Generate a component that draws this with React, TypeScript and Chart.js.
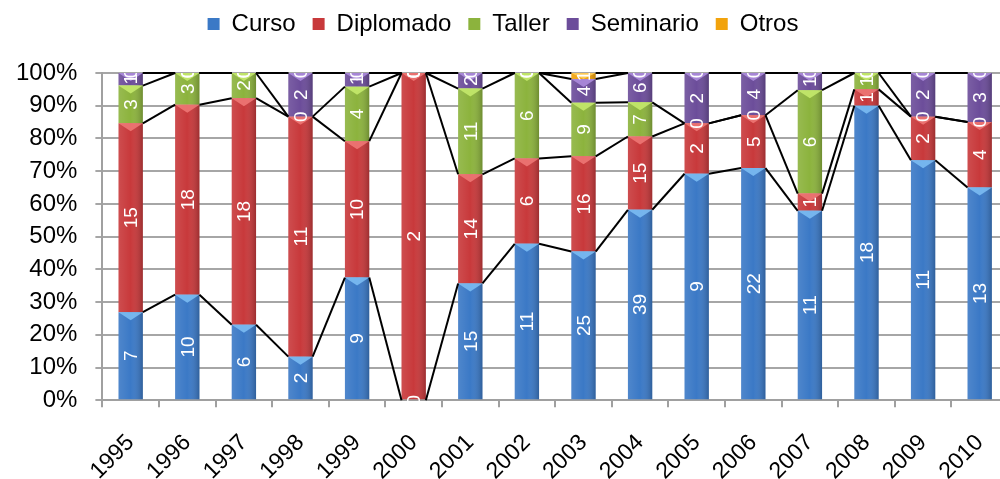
import React, { useEffect, useRef } from "react";
import { Chart, registerables } from "chart.js";

Chart.register(...registerables);

const years = ["1995","1996","1997","1998","1999","2000","2001","2002","2003","2004","2005","2006","2007","2008","2009","2010"];
const curso = [7, 10, 6, 2, 9, 0, 15, 11, 25, 39, 9, 22, 11, 18, 11, 13];
const diplomado = [15, 18, 18, 11, 10, 2, 14, 6, 16, 15, 2, 5, 1, 1, 2, 4];
const taller = [3, 3, 2, 0, 4, 0, 11, 6, 9, 7, 0, 0, 6, 1, 0, 0];
const seminario = [1, 0, 0, 2, 1, 0, 2, 0, 4, 6, 2, 4, 1, 0, 2, 3];
const otros = [0, 0, 0, 0, 0, 0, 0, 0, 1, 0, 0, 0, 0, 0, 0, 0];
const yTicks = [0, 10, 20, 30, 40, 50, 60, 70, 80, 90, 100];

const seriesNames = ["Curso", "Diplomado", "Taller", "Seminario", "Otros"];
const seriesCounts = [curso, diplomado, taller, seminario, otros];
const seriesColors = ["#3b79c6", "#c8393b", "#8cb33d", "#6c4d9a", "#f2a30c"];
const triColors = ["#7fc0f4", "#f07a78", "#c8ec6e", "#b08fe0", "#ffd060"];

const FONT = "'Liberation Sans', Arial, sans-serif";

const totals = years.map((_, i) => seriesCounts.reduce((s, arr) => s + arr[i], 0));

const legendSpacing = {
  id: "legendSpacing",
  beforeInit(chart: any) {
    const legend = chart.legend;
    if (!legend) return;
    const origFit = legend.fit;
    legend.fit = function () {
      origFit.call(this);
      this.height += 27;
    };
  },
};

const shadingPlugin = {
  id: "shading",
  afterDatasetsDraw(chart: any) {
    const ctx = chart.ctx;
    chart.data.datasets.forEach((_: any, di: number) => {
      const meta = chart.getDatasetMeta(di);
      meta.data.forEach((el: any) => {
        const top = Math.min(el.y, el.base);
        const h = Math.abs(el.base - el.y);
        if (h < 0.5) return;
        const left = el.x - el.width / 2;
        ctx.save();
        const g = ctx.createLinearGradient(left, 0, left + el.width, 0);
        g.addColorStop(0, "rgba(255,255,255,0.10)");
        g.addColorStop(0.5, "rgba(255,255,255,0.0)");
        g.addColorStop(1, "rgba(0,0,0,0.22)");
        ctx.fillStyle = g;
        ctx.fillRect(left, top, el.width, h);
        const th = Math.min(8, h);
        ctx.fillStyle = triColors[di];
        ctx.globalAlpha = 0.85;
        ctx.beginPath();
        ctx.moveTo(left, top);
        ctx.lineTo(left + el.width, top);
        ctx.lineTo(el.x, top + th);
        ctx.closePath();
        ctx.fill();
        ctx.restore();
      });
    });
  },
};

const seriesLinesPlugin = {
  id: "seriesLines",
  afterDatasetsDraw(chart: any) {
    const ctx = chart.ctx;
    ctx.save();
    ctx.strokeStyle = "#000";
    ctx.lineWidth = 2;
    chart.data.datasets.forEach((_: any, di: number) => {
      const meta = chart.getDatasetMeta(di);
      const els = meta.data;
      for (let j = 0; j < els.length - 1; j++) {
        const a = els[j];
        const b = els[j + 1];
        ctx.beginPath();
        ctx.moveTo(a.x + a.width / 2, a.y);
        ctx.lineTo(b.x - b.width / 2, b.y);
        ctx.stroke();
      }
    });
    ctx.restore();
  },
};

const labelsPlugin = {
  id: "segLabels",
  afterDatasetsDraw(chart: any) {
    const ctx = chart.ctx;
    const area = chart.chartArea;
    ctx.save();
    ctx.beginPath();
    ctx.rect(area.left, area.top, area.right - area.left, area.bottom - area.top + 6);
    ctx.clip();
    ctx.fillStyle = "#fff";
    ctx.font = `19px ${FONT}`;
    ctx.textAlign = "center";
    ctx.textBaseline = "middle";
    chart.data.datasets.forEach((_: any, di: number) => {
      const meta = chart.getDatasetMeta(di);
      meta.data.forEach((el: any, j: number) => {
        const v = seriesCounts[di][j];
        const cy = (el.y + el.base) / 2;
        ctx.save();
        ctx.translate(el.x, cy);
        ctx.rotate(-Math.PI / 2);
        ctx.fillText(String(v), 0, 1);
        ctx.restore();
      });
    });
    ctx.restore();
  },
};

export default function App() {
  const ref = useRef<HTMLCanvasElement | null>(null);
  useEffect(() => {
    document.documentElement.style.overflow = "hidden";
    document.body.style.overflow = "hidden";
    const chart = new Chart(ref.current as HTMLCanvasElement, {
      type: "bar",
      data: {
        labels: years,
        datasets: seriesNames.map((name, di) => ({
          label: name,
          data: seriesCounts[di].map((v, i) => (totals[i] ? (v / totals[i]) * 100 : 0)),
          backgroundColor: seriesColors[di],
          borderWidth: 0,
          barPercentage: 0.43,
          categoryPercentage: 1,
        })),
      },
      options: {
        responsive: false,
        animation: false,
        layout: { padding: { left: -2, right: 2, top: -5, bottom: -28 } },
        plugins: {
          legend: {
            position: "top",
            labels: {
              boxWidth: 12,
              boxHeight: 12,
              padding: 17,
              color: "#000",
              font: { family: FONT, size: 24 },
            },
          },
          tooltip: { enabled: false },
        },
        scales: {
          x: {
            stacked: true,
            afterFit: (scale: any) => {
              scale.paddingRight = 0;
            },
            grid: {
              display: true,
              drawOnChartArea: false,
              drawTicks: true,
              tickLength: 7,
              color: "#a0a0a0",
              lineWidth: 2,
            },
            border: { display: true, color: "#a0a0a0", width: 2 },
            ticks: {
              color: "#000",
              font: { family: FONT, size: 23 },
              minRotation: 45,
              maxRotation: 45,
              autoSkip: false,
              padding: 22,
            },
          },
          y: {
            stacked: true,
            min: 0,
            max: 100,
            afterBuildTicks: (axis: any) => {
              axis.ticks = yTicks.map((v) => ({ value: v }));
            },
            grid: {
              color: "#a6a6a6",
              lineWidth: 2,
              tickLength: 7,
            },
            border: { display: true, color: "#a0a0a0", width: 2 },
            ticks: {
              color: "#000",
              font: { family: FONT, size: 24 },
              padding: 18,
              autoSkip: false,
              callback: (v: any) => `${v}%`,
            },
          },
        },
      },
      plugins: [legendSpacing, shadingPlugin, seriesLinesPlugin, labelsPlugin],
    });
    return () => chart.destroy();
  }, []);
  return (
    <div style={{ position: "absolute", left: 0, top: 0, width: 1000, height: 479, overflow: "hidden", background: "#fff" }}>
      <canvas ref={ref} width={1010} height={479} style={{ display: "block" }} />
    </div>
  );
}
